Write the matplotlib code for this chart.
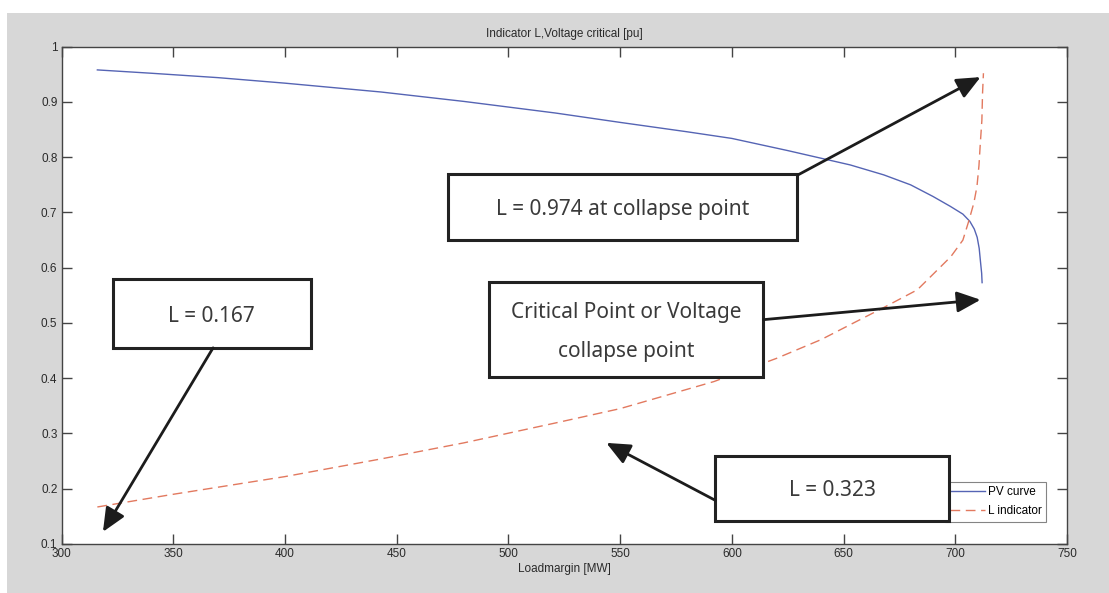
import matplotlib
matplotlib.use("Agg")
import matplotlib.pyplot as plt
from matplotlib.patches import Rectangle

# Load margin [MW] and the two traces read along it
pv_load = [316, 340, 370, 400, 443, 480, 521, 550, 580, 600, 625, 653, 668,
           680, 690, 697.8, 703.4, 706.5, 708.5, 709.8, 710.7, 711.3, 711.8, 712]
pv_voltage = [0.958, 0.952, 0.944, 0.934, 0.918, 0.901, 0.880, 0.863, 0.846,
              0.834, 0.812, 0.786, 0.768, 0.750, 0.729, 0.711, 0.697, 0.684,
              0.670, 0.655, 0.635, 0.610, 0.590, 0.573]

l_load = [316, 350, 400, 443, 480, 521, 550, 592, 620, 640, 653, 668, 683,
          690, 698, 703.4, 706, 708.3, 709.7, 710.6, 711.2, 711.9, 712.2, 712.6]
l_value = [0.167, 0.190, 0.222, 0.254, 0.283, 0.319, 0.345, 0.394, 0.436,
           0.470, 0.497, 0.528, 0.560, 0.588, 0.620, 0.650, 0.684, 0.717,
           0.747, 0.785, 0.825, 0.867, 0.916, 0.952]

x_ticks = [300, 350, 400, 450, 500, 550, 600, 650, 700, 750]
y_ticks = [0.1, 0.2, 0.3, 0.4, 0.5, 0.6, 0.7, 0.8, 0.9, 1.0]
y_tick_labels = ["0.1", "0.2", "0.3", "0.4", "0.5", "0.6", "0.7", "0.8", "0.9", "1"]

# Callout boxes: text, box (x0, x1, y0, y1), arrow start, arrow tip
callouts = [
    ("L = 0.974 at collapse point", (473.0, 629.3, 0.650, 0.770), (629.6, 0.768), (711.3, 0.945)),
    ("Critical Point or Voltage\ncollapse point", (491.4, 614.1, 0.403, 0.575), (614.1, 0.506), (711.3, 0.542)),
    ("L = 0.167", (322.9, 411.6, 0.455, 0.579), (367.8, 0.455), (318.5, 0.122)),
    ("L = 0.323", (592.6, 697.4, 0.142, 0.260), (592.6, 0.179), (543.8, 0.283)),
]

W, H = 1109, 593
fig = plt.figure(figsize=(W / 100, H / 100), dpi=100, facecolor="white")

# grey window backdrop
fig.patches.append(Rectangle((7 / W, 0), 1 - 7 / W, 1 - 13 / H,
                             transform=fig.transFigure, facecolor="#d7d7d7",
                             edgecolor="none", zorder=-5))

ax = fig.add_axes([61.6 / W, 1 - 544 / H, (1067 - 61.6) / W, (544 - 46.7) / H])
ax.set_zorder(1)
ax.set_facecolor("white")

ax.plot(pv_load, pv_voltage, color="#5564b4", lw=1.0, label="PV curve", zorder=3)
ax.plot(l_load, l_value, color="#e2795f", lw=1.0, ls=(0, (7, 4)), label="L indicator", zorder=3)

ax.set_xlim(300, 750)
ax.set_ylim(0.1, 1.0)
ax.set_xticks(x_ticks)
ax.set_yticks(y_ticks)
ax.set_yticklabels(y_tick_labels)

text_dark = "#2a2a2a"
tick_font = dict(family="Liberation Sans", size=8.5)
for lab in ax.get_xticklabels() + ax.get_yticklabels():
    lab.set_fontfamily("Liberation Sans")
    lab.set_fontsize(8.5)
ax.tick_params(direction="in", length=7, width=1, colors="#444444",
               top=True, right=True, labelcolor=text_dark, pad=3)
for s in ax.spines.values():
    s.set_color("#444444")
    s.set_linewidth(1.0)

ax.set_title("Indicator L,Voltage critical [pu]", fontdict=tick_font,
             color=text_dark, pad=7)
ax.set_xlabel("Loadmargin [MW]", fontdict=tick_font, color=text_dark, labelpad=2)

leg = ax.legend(loc="lower right", bbox_to_anchor=(0.979, 0.045),
                borderaxespad=0, frameon=True, fancybox=False,
                prop=dict(family="Liberation Sans", size=8.5),
                handlelength=3.0, handletextpad=0.25, labelspacing=0.65,
                borderpad=0.35)
leg.get_frame().set_edgecolor("#666666")
leg.get_frame().set_linewidth(0.8)
leg.set_zorder(4)

for text, (x0, x1, y0, y1), start, tip in callouts:
    ax.add_patch(Rectangle((x0, y0), x1 - x0, y1 - y0, facecolor="white",
                           edgecolor="#222222", lw=2.2, zorder=6))
    ax.text((x0 + x1) / 2, (y0 + y1) / 2 - 0.005, text, ha="center", va="center",
            family="Noto Sans", fontsize=15, color="#3a3a3a",
            linespacing=2.1, zorder=7)
    ax.annotate("", xy=tip, xytext=start,
                arrowprops=dict(arrowstyle="-|>,head_length=0.9,head_width=0.4",
                                color="#1c1c1c", lw=2.0, shrinkA=0, shrinkB=0,
                                mutation_scale=16),
                zorder=7)

fig.savefig("out.png", dpi=100, facecolor="white")
